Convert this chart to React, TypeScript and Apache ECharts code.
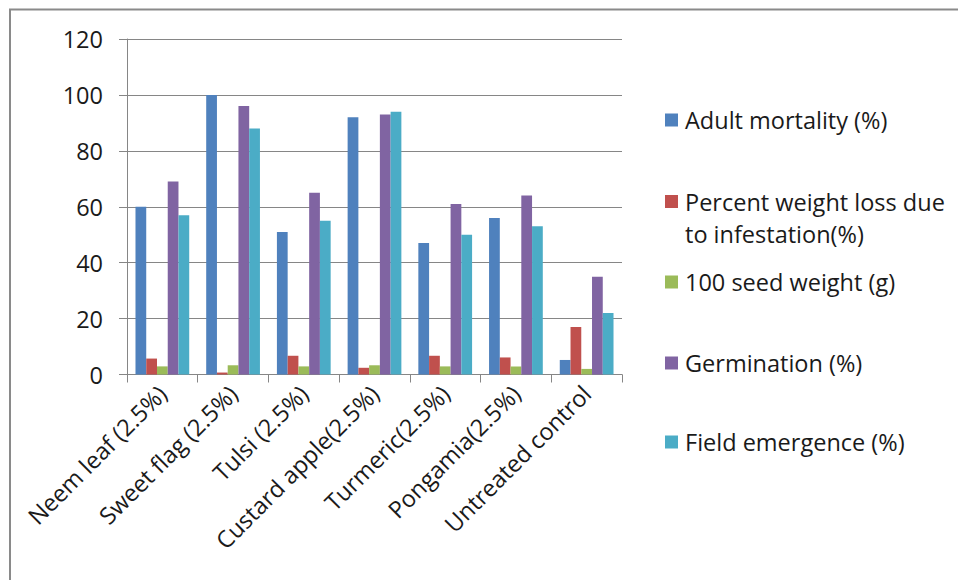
import React, { useEffect, useRef } from "react";
import * as echarts from "echarts";

const categories = [
  "Neem leaf (2.5%)",
  "Sweet flag (2.5%)",
  "Tulsi (2.5%)",
  "Custard apple(2.5%)",
  "Turmeric(2.5%)",
  "Pongamia(2.5%)",
  "Untreated control",
];

const seriesNames = [
  "Adult mortality (%)",
  "Percent weight loss due to infestation(%)",
  "100 seed weight (g)",
  "Germination (%)",
  "Field emergence (%)",
];

const adultMortality = [60, 100, 51, 92, 47, 56, 5.2];
const weightLoss = [5.7, 0.7, 6.7, 2.4, 6.7, 6.1, 17];
const seedWeight = [2.9, 3.3, 2.9, 3.3, 2.9, 2.9, 2.0];
const germination = [69, 96, 65, 93, 61, 64, 35];
const fieldEmergence = [57, 88, 55, 94, 50, 53, 22];

const yTicks = { min: 0, max: 120, interval: 20 };

const colors = ["#4F81BD", "#C0504D", "#9BBB59", "#8064A2", "#4BACC6"];

const FONT = "Open Sans";
const FS = 23.5;

export default function App() {
  const ref = useRef<HTMLDivElement>(null);

  useEffect(() => {
    if (!ref.current) return;
    const chart = echarts.init(ref.current, undefined, { renderer: "svg" });
    const values = [adultMortality, weightLoss, seedWeight, germination, fieldEmergence];
    const legendCenters = [120, 201.5, 282, 363, 442];

    const legends = seriesNames.map((name, i) => ({
      show: true,
      data: [name],
      orient: "vertical" as const,
      left: 665,
      top: legendCenters[i] - 16,
      padding: 0,
      itemWidth: 13,
      itemHeight: i === 1 ? 45 : 13,
      itemGap: 0,
      icon: i === 1 ? "path://M0,0h13v13h-13zM0,45" : "rect",
      selectedMode: false,
      formatter: (n: string) =>
        n === seriesNames[1] ? "Percent weight loss due\nto infestation(%)" : n,
      textStyle: {
        fontFamily: FONT,
        fontSize: FS,
        color: "#1a1a1a",
        lineHeight: 32,
        padding: [0, 0, 0, 2],
      },
    }));

    chart.setOption({
      animation: false,
      color: colors,
      textStyle: { fontFamily: FONT },
      graphic: [
        {
          type: "rect",
          shape: { x: 10, y: 9.5, width: 1200, height: 1200 },
          style: { fill: "none", stroke: "#8a8a8a", lineWidth: 2 },
          silent: true,
        },
      ],
      legend: legends,
      grid: { left: 127, top: 39, width: 495, height: 335.5 },
      xAxis: {
        type: "category",
        data: categories,
        boundaryGap: true,
        axisLine: { show: true, lineStyle: { color: "#868686", width: 1 } },
        axisTick: { show: true, length: 8, lineStyle: { color: "#868686" } },
        axisLabel: {
          rotate: 45,
          interval: 0,
          margin: 15,
          fontFamily: FONT,
          fontSize: FS,
          color: "#1a1a1a",
        },
      },
      yAxis: {
        type: "value",
        min: yTicks.min,
        max: yTicks.max,
        interval: yTicks.interval,
        axisLine: { show: true, lineStyle: { color: "#868686", width: 1 } },
        axisTick: { show: true, length: 8, lineStyle: { color: "#868686" } },
        splitLine: { show: true, lineStyle: { color: "#868686", width: 1 } },
        axisLabel: {
          margin: 24,
          fontFamily: FONT,
          fontSize: FS,
          color: "#1a1a1a",
        },
      },
      series: seriesNames.map((name, i) => ({
        name,
        type: "bar",
        data: values[i],
        barGap: "0%",
        barCategoryGap: "24%",
        itemStyle: { color: colors[i] },
      })),
    });

    return () => chart.dispose();
  }, []);

  return (
    <div
      ref={ref}
      style={{ position: "absolute", left: 0, top: 0, width: 958, height: 580, background: "#fff" }}
    />
  );
}
